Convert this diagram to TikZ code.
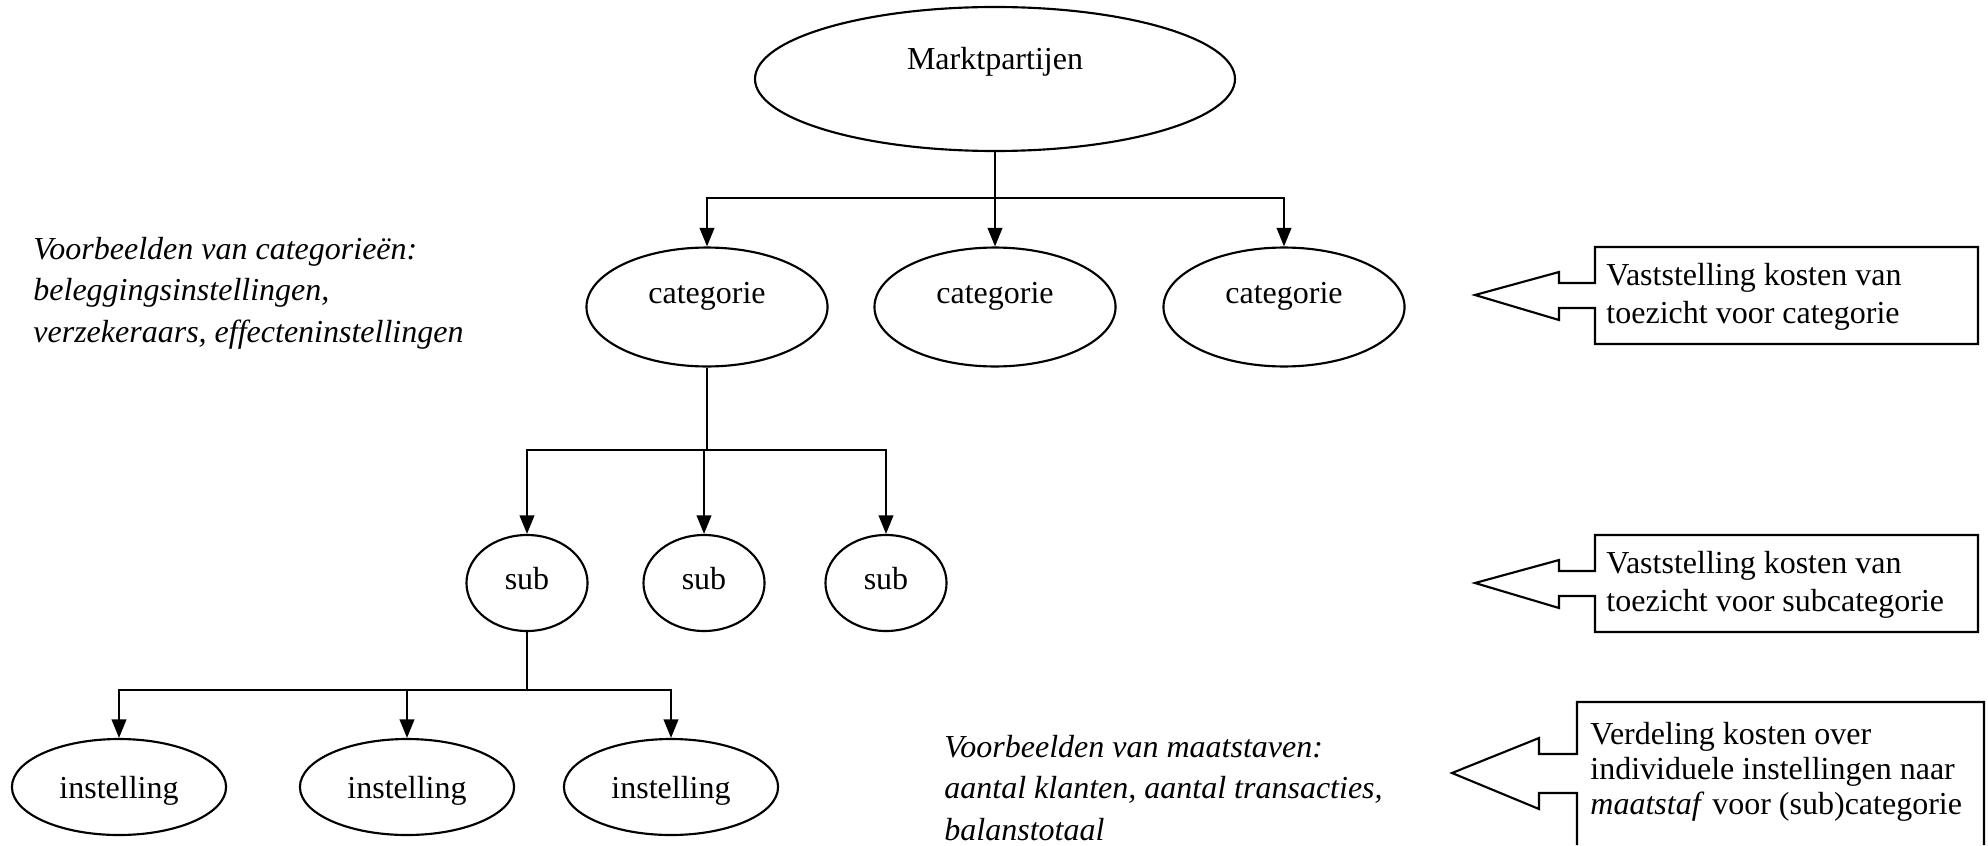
\documentclass[tikz,border=0pt]{standalone}
\usepackage{fontspec}
\setmainfont{Liberation Serif}
\usepackage{tikz}
\usetikzlibrary{arrows.meta, shapes.geometric}

\begin{document}
\begin{tikzpicture}[
  x=0.375pt, y=-0.375pt,
  font=\fontsize{12pt}{13.9pt}\selectfont,
  ell/.style={draw, ellipse, line width=0.8pt, inner sep=0pt},
  topbox/.style={ell, minimum width=180pt, minimum height=54pt, label={[anchor=base, yshift=6.4pt]center:#1}},
  catbox/.style={ell, minimum width=90.4pt, minimum height=44.6pt, label={[anchor=base, yshift=3.9pt]center:#1}},
  subbox/.style={ell, minimum width=45.4pt, minimum height=36pt, label={[anchor=base, yshift=1.5pt]center:#1}},
  instbox/.style={ell, minimum width=80.3pt, minimum height=36pt, label={[anchor=base, yshift=-1.5pt]center:#1}},
  line/.style={line width=0.8pt},
  arr/.style={-{Triangle[length=7pt, width=5.5pt]}, line width=0.8pt},
  call/.style={line width=0.8pt, line join=miter},
  calltxt/.style={align=left, anchor=base west},
  note/.style={align=left, anchor=base west, inner ysep=1pt, font=\fontsize{12pt}{15.4pt}\selectfont\itshape}
]
  \useasboundingbox (0,0) rectangle (1988,845);

  % tree
  \node[topbox=Marktpartijen] (mp) at (995,79) {};
  \node[catbox=categorie] (cat1) at (707,307) {};
  \node[catbox=categorie] (cat2) at (995,307) {};
  \node[catbox=categorie] (cat3) at (1284,307) {};
  \node[subbox=sub] (sub1) at (527,583) {};
  \node[subbox=sub] (sub2) at (704,583) {};
  \node[subbox=sub] (sub3) at (886,583) {};
  \node[instbox=instelling] (inst1) at (119,787) {};
  \node[instbox=instelling] (inst2) at (407,787) {};
  \node[instbox=instelling] (inst3) at (671,787) {};

  \coordinate (b1) at (995,198);
  \coordinate (b2) at (707,450);
  \coordinate (b3) at (527,690);

  \draw[line] (mp.south) -- (b1);
  \foreach \n in {cat1,cat2,cat3}
    \draw[arr] (b1) -| (\n.north);
  \draw[line] (cat1.south) -- (b2);
  \foreach \n in {sub1,sub2,sub3}
    \draw[arr] (b2) -| (\n.north);
  \draw[line] (sub1.south) -- (b3);
  \foreach \n in {inst1,inst2,inst3}
    \draw[arr] (b3) -| (\n.north);

  % notes (anchored at the last line)
  \node[note] (vbcat) at (24,342) {Voorbeelden van categorieën:\\beleggingsinstellingen,\\verzekeraars, effecteninstellingen};
  \node[note] (vbmaat) at (935,840) {Voorbeelden van maatstaven:\\aantal klanten, aantal transacties,\\balanstotaal};

  % callouts
  \draw[call] (1595,247) -- (1978,247) -- (1978,344) -- (1595,344) -- (1595,308) -- (1559,308)
    -- (1559,320) -- (1475,295) -- (1559,272) -- (1559,283) -- (1595,283) -- cycle;
  \node[calltxt] (vk1) at (1597,323) {Vaststelling kosten van\\toezicht voor categorie};

  \draw[call] (1595,535) -- (1978,535) -- (1978,632) -- (1595,632) -- (1595,596) -- (1559,596)
    -- (1559,608) -- (1475,583) -- (1559,560) -- (1559,571) -- (1595,571) -- cycle;
  \node[calltxt] (vk2) at (1597,611) {Vaststelling kosten van\\toezicht voor subcategorie};

  \draw[call] (1577,845) -- (1577,793) -- (1539,793) -- (1539,809) -- (1452,773) -- (1539,738)
    -- (1539,754) -- (1577,754) -- (1577,702) -- (1984,702) -- (1984,845);
  \node[calltxt, font=\fontsize{12pt}{13pt}\selectfont] (verd) at (1581,814) {Verdeling kosten over\\individuele instellingen naar\\\textit{maatstaf} voor (sub)categorie};
\end{tikzpicture}
\end{document}
